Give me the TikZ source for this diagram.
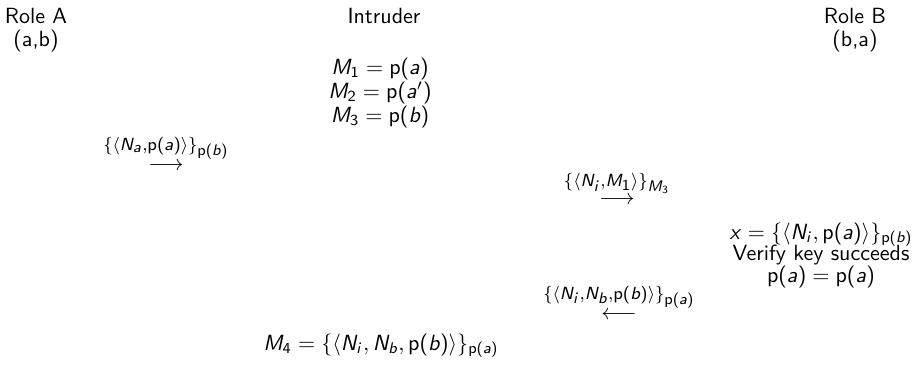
\documentclass[tikz,border=0pt]{standalone}
\renewcommand{\familydefault}{\sfdefault}
% sans serif math, slanted letters
\DeclareSymbolFont{sfletters}{OT1}{cmss}{m}{sl}
\SetSymbolFont{operators}{normal}{OT1}{cmss}{m}{n}
\DeclareMathSymbol{a}{\mathalpha}{sfletters}{`a}
\DeclareMathSymbol{b}{\mathalpha}{sfletters}{`b}
\DeclareMathSymbol{i}{\mathalpha}{sfletters}{`i}
\DeclareMathSymbol{x}{\mathalpha}{sfletters}{`x}
\DeclareMathSymbol{M}{\mathalpha}{sfletters}{`M}
\DeclareMathSymbol{N}{\mathalpha}{sfletters}{`N}
\DeclareMathSizes{8.4}{8.4}{6.7}{5}
\newcommand{\pk}{\mathrm{p}}
% message over an arrow
\newcommand{\msg}[2]{$\mathrel{\mathop{#2}\limits^{\raisebox{1.2pt}{\fontsize{8.4}{9}\selectfont$#1$}}}$}
\begin{document}
\begin{tikzpicture}[
        x=0.4545pt,
        y=-0.4545pt,
        font=\sffamily,
        txt/.style={inner sep=0pt, anchor=base}
    ]
    \useasboundingbox (0,0) rectangle (918,364);

    % ---------- 列位置 ----------
    \def\colA{36}     % Role A
    \def\colI{384}    % Intruder
    \def\colB{855}    % Role B

    % ---------- 角色 ----------
    \node[txt] (roleA) at (\colA,23) {Role A};
    \node[txt] (argsA) at (\colA,46) {(a,b)};
    \node[txt] (intr)  at (\colI,23) {Intruder};
    \node[txt] (roleB) at (\colB,23) {Role B};
    \node[txt] (argsB) at (\colB,46) {(b,a)};

    % ---------- 入侵者知识 ----------
    \node[txt] (m1) at (380,74)  {$M_1=\pk(a)$};
    \node[txt] (m2) at (380,98)  {$M_2=\pk(a')$};
    \node[txt] (m3) at (380,122) {$M_3=\pk(b)$};

    % ---------- 消息 ----------
    \node[txt] (msgA) at (166,170)
        {\msg{\{\langle N_a{,}\pk(a)\rangle\}_{\pk(b)}}{\longrightarrow}};
    \node[txt] (msgI) at (617,204)
        {\msg{\{\langle N_i{,}M_1\rangle\}_{M_3}}{\longrightarrow}};

    % ---------- B 端检查 ----------
    \node[txt] (xB)  at (821,239) {$x=\{\langle N_i,\pk(a)\rangle\}_{\pk(b)}$};
    \node[txt] (vfy) at (821,260) {Verify key succeeds};
    \node[txt] (eqB) at (821,282) {$\pk(a)=\pk(a)$};

    \node[txt] (msgB) at (619,319)
        {\msg{\{\langle N_i{,}N_b{,}\pk(b)\rangle\}_{\pk(a)}}{\longleftarrow}};

    \node[txt] (m4) at (381,350) {$M_4=\{\langle N_i,N_b,\pk(b)\rangle\}_{\pk(a)}$};

\end{tikzpicture}
\end{document}
